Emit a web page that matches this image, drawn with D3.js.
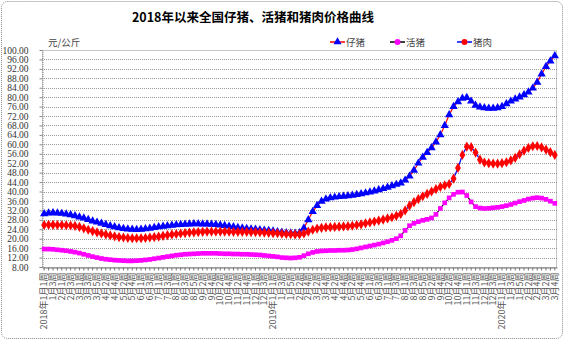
<!DOCTYPE html>
<html>
<head>
<meta charset="utf-8">
<script src="https://cdn.jsdelivr.net/npm/d3@7"></script>
<style>
  html, body { margin: 0; padding: 0; background: #fff; }
  svg { display: block; }
</style>
</head>
<body>
<div id="chart"></div>
<script>
// Weeks per month, per year (week labels "M月W周")
const years = [2018, 2019, 2020];
const weeksPerMonth = [
  [4, 4, 5, 4, 5, 4, 4, 5, 4, 4, 5, 4],
  [5, 4, 4, 4, 5, 4, 4, 5, 4, 5, 4, 4],
  [5, 4, 4]
];

// 仔猪 price, 元/公斤
const piglet = [
  30.5, 30.9, 31.0, 30.9, 30.7, 30.4, 30.1, 29.7, 29.2, 28.7, 28.1, 27.5, 27.0,
  26.5, 26.0, 25.5, 25.0, 24.6, 24.3, 24.1, 24.0, 23.9, 24.0, 24.2, 24.4, 24.7,
  25.0, 25.2, 25.5, 25.7, 25.9, 26.0, 26.1, 26.2, 26.3, 26.3, 26.2, 26.2, 26.1,
  26.0, 25.8, 25.6, 25.3, 25.0, 24.7, 24.5, 24.3, 24.1, 24.0, 23.8, 23.6, 23.4,
  23.2, 22.9, 22.7, 22.5, 22.4, 22.3, 22.5, 24.5, 28.0, 31.5, 34.0, 35.8, 36.8,
  37.3, 37.6, 37.8, 38.0, 38.2, 38.4, 38.7, 39.0, 39.4, 39.8, 40.2, 40.7, 41.2,
  41.8, 42.4, 43.0, 43.6, 44.8, 46.5, 49.0, 52.0, 54.5, 56.5, 58.5, 61.0, 64.0,
  68.0, 72.5, 76.0, 78.0, 79.5, 79.8, 78.3, 76.5, 75.8, 75.5, 75.3, 75.3, 75.5,
  76.0, 77.2, 78.3, 79.2, 80.0, 81.0, 82.2, 83.8, 86.3, 89.8, 93.0, 95.3, 97.5
];

// 活猪 price, 元/公斤
const liveHog = [
  15.6, 15.6, 15.5, 15.3, 15.1, 14.9, 14.6, 14.3, 13.9, 13.4, 12.9, 12.4, 12.0,
  11.6, 11.3, 11.1, 10.9, 10.8, 10.7, 10.6, 10.6, 10.7, 10.8, 11.0, 11.2, 11.5,
  11.8, 12.1, 12.4, 12.7, 13.0, 13.2, 13.4, 13.5, 13.6, 13.7, 13.8, 13.8, 13.8,
  13.8, 13.7, 13.6, 13.6, 13.5, 13.5, 13.4, 13.4, 13.3, 13.2, 13.1, 12.9, 12.7,
  12.5, 12.3, 12.0, 11.9, 11.8, 11.9, 12.1, 12.8, 13.6, 14.2, 14.6, 14.8, 14.9,
  15.0, 15.0, 15.1, 15.1, 15.2, 15.4, 15.7, 16.1, 16.5, 16.9, 17.3, 17.7, 18.2,
  18.7, 19.3, 20.0, 21.2, 23.5, 25.5, 26.5, 27.2, 27.8, 28.2, 28.8, 30.3, 32.8,
  35.2, 37.3, 38.8, 39.7, 39.8, 38.3, 35.6, 33.6, 33.0, 32.8, 32.9, 33.1, 33.3,
  33.6, 34.0, 34.5, 35.1, 35.7, 36.2, 36.8, 37.2, 37.4, 37.2, 36.7, 35.9, 35.0
];

// 猪肉 price, 元/公斤
const pork = [
  25.8, 25.9, 25.9, 25.8, 25.8, 25.7, 25.6, 25.4, 25.0, 24.4, 23.8, 23.2, 22.7,
  22.2, 21.8, 21.4, 21.0, 20.7, 20.5, 20.3, 20.2, 20.2, 20.2, 20.3, 20.5, 20.7,
  20.9, 21.2, 21.5, 21.8, 22.0, 22.2, 22.4, 22.6, 22.7, 22.8, 22.9, 23.0, 23.0,
  23.0, 23.0, 23.0, 23.0, 22.9, 22.9, 22.9, 22.9, 22.8, 22.8, 22.7, 22.6, 22.5,
  22.4, 22.3, 22.1, 22.0, 21.9, 21.8, 21.8, 22.2, 23.0, 23.8, 24.3, 24.6, 24.8,
  24.9, 25.0, 25.1, 25.2, 25.3, 25.5, 25.8, 26.1, 26.5, 26.9, 27.3, 27.7, 28.1,
  28.6, 29.1, 29.7, 30.5, 32.0, 34.0, 35.5, 36.8, 38.0, 39.0, 40.0, 41.0, 42.0,
  42.6, 43.2, 45.5, 50.0, 55.5, 59.0, 58.8, 56.5, 53.5, 52.3, 52.0, 51.8, 51.8,
  52.0, 52.4, 53.2, 54.3, 55.8, 57.3, 58.5, 59.2, 59.3, 58.7, 57.8, 56.7, 55.5
];

// Y axis ticks
const yTicks = d3.range(8, 100.001, 4);

// Build the week category labels
const categories = [];
years.forEach((yr, yi) => {
  weeksPerMonth[yi].forEach((n, mi) => {
    for (let w = 1; w <= n; w++) {
      const first = mi === 0 && w === 1;
      categories.push((first ? yr + "年" : "") + (mi + 1) + "月" + w + "周");
    }
  });
});
const idx = d3.range(categories.length);

const W = 565, H = 341;
const margin = { left: 42, right: 8, top: 50, bottom: 74 };
const svg = d3.select("#chart").append("svg")
  .attr("width", W).attr("height", H);

// Outer frame
svg.append("rect")
  .attr("x", 1.5).attr("y", 1.5).attr("width", W - 4).attr("height", H - 4)
  .attr("rx", 6).attr("fill", "#fff")
  .attr("stroke", "#8a8a8a").attr("stroke-dasharray", "1,1");

const x = d3.scaleBand()
  .domain(idx)
  .range([margin.left, W - margin.right]);
const y = d3.scaleLinear()
  .domain([8, 100])
  .range([H - margin.bottom, margin.top]);

const cx = i => x(i) + x.bandwidth() / 2;

// Title
svg.append("text")
  .attr("x", 253).attr("y", 22)
  .attr("text-anchor", "middle")
  .attr("font-family", "'Noto Sans CJK SC', sans-serif")
  .attr("font-weight", "bold")
  .attr("font-size", 12.5)
  .attr("fill", "#000")
  .text("2018年以来全国仔猪、活猪和猪肉价格曲线");

// Unit label
svg.append("text")
  .attr("x", 48).attr("y", 46)
  .attr("font-family", "'Noto Sans CJK SC', serif")
  .attr("font-size", 9.5)
  .attr("fill", "#444")
  .text("元/公斤");

// Gridlines
svg.append("g")
  .selectAll("line")
  .data(yTicks.filter(v => v > 8 && v < 100))
  .join("line")
  .attr("x1", margin.left).attr("x2", W - margin.right)
  .attr("y1", d => Math.round(y(d)) + 0.5).attr("y2", d => Math.round(y(d)) + 0.5)
  .attr("stroke", "#9a9a9a").attr("stroke-dasharray", "1,1");

// Plot frame
svg.append("rect")
  .attr("x", margin.left + 0.5).attr("y", Math.round(y(100)) + 0.5)
  .attr("width", W - margin.right - margin.left - 1)
  .attr("height", Math.round(y(8)) - Math.round(y(100)))
  .attr("fill", "none")
  .attr("stroke", "#8a8a8a").attr("stroke-dasharray", "1,1");

// Y axis
const yAxis = svg.append("g")
  .attr("transform", `translate(${margin.left + 0.5},0)`)
  .call(d3.axisLeft(y).tickValues(yTicks).tickSize(3).tickFormat(d3.format(".2f")));
yAxis.select(".domain").attr("stroke", "#8a8a8a").attr("stroke-dasharray", "1,1");
yAxis.selectAll(".tick line").attr("stroke", "#8a8a8a");
yAxis.selectAll(".tick text")
  .attr("x", -14)
  .attr("font-family", "'Liberation Serif', serif")
  .attr("font-size", 9.5)
  .attr("fill", "#333");

// X axis
const xAxis = svg.append("g")
  .attr("transform", `translate(0,${Math.round(y(8)) + 0.5})`)
  .call(d3.axisBottom(x).tickSize(3).tickSizeOuter(0)
    .tickFormat(i => i % 2 === 0 ? categories[i] : ""));
xAxis.select(".domain").attr("stroke", "#777");
xAxis.selectAll(".tick line").attr("stroke", "#777");
xAxis.selectAll(".tick text")
  .attr("transform", "rotate(-90)")
  .attr("text-anchor", "end")
  .attr("dy", "0.35em")
  .attr("x", -5).attr("y", 0)
  .attr("font-family", "'Noto Sans CJK SC', sans-serif")
  .attr("font-size", 9)
  .attr("fill", "#555");

// Series
const series = [
  { name: "仔猪", values: piglet, line: "#ff0000", mark: "#0000ff", shape: d3.symbolTriangle, size: 30 },
  { name: "活猪", values: liveHog, line: "#000000", mark: "#ff00ff", shape: d3.symbolSquare, size: 22 },
  { name: "猪肉", values: pork, line: "#0000ff", mark: "#ff0000", shape: d3.symbolDiamond, size: 30 }
];

const line = d3.line()
  .x((d, i) => cx(i))
  .y(d => y(d));

series.forEach(s => {
  const g = svg.append("g");
  g.append("path")
    .attr("d", line(s.values))
    .attr("fill", "none")
    .attr("stroke", s.line)
    .attr("stroke-width", 1.2);
  g.selectAll("path.m")
    .data(s.values)
    .join("path")
    .attr("class", "m")
    .attr("transform", (d, i) => `translate(${cx(i)},${y(d)})`)
    .attr("d", d3.symbol().type(s.shape).size(s.size))
    .attr("fill", s.mark);
});

// Legend
const legendX = [330, 390, 457];
const lg = svg.append("g");
series.forEach((s, i) => {
  const g = lg.append("g").attr("transform", `translate(${legendX[i]},42)`);
  g.append("line").attr("x1", 0).attr("x2", 15).attr("y1", 0).attr("y2", 0)
    .attr("stroke", s.line).attr("stroke-width", 1.5);
  g.append("path").attr("transform", "translate(7.5,0)")
    .attr("d", d3.symbol().type(i === 0 ? d3.symbolTriangle : d3.symbolCircle).size(28))
    .attr("fill", s.mark);
  g.append("text").attr("x", 16).attr("y", 3.5)
    .attr("font-family", "'Noto Sans CJK SC', serif")
    .attr("font-size", 9.5)
    .attr("fill", "#444")
    .text(s.name);
});
</script>
</body>
</html>
